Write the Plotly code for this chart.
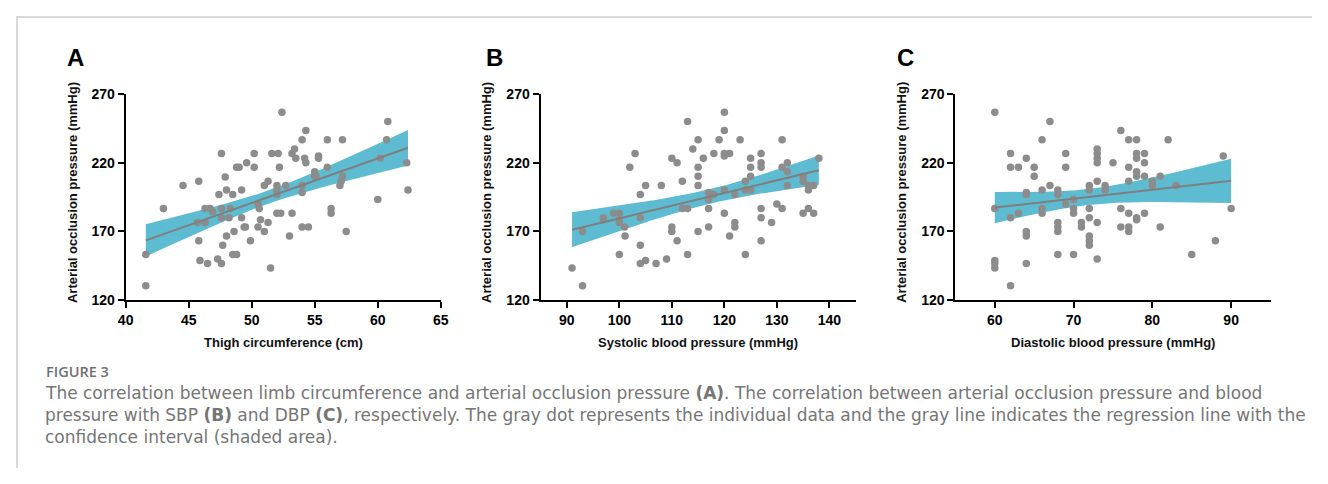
import numpy as np
import plotly.graph_objects as go

# ---------------- data ----------------
thigh_cm = [41.6, 41.6, 43.0, 44.55, 45.8, 45.7, 45.8, 45.9, 46.3, 46.3, 46.5, 46.7, 46.9, 47.3,
            47.4, 47.6, 47.6, 47.6, 47.6, 47.7, 47.9, 48.0, 48.0, 48.2, 48.3, 48.5, 48.5, 48.6,
            48.8, 48.8, 49.0, 49.2, 49.2, 49.4, 49.5, 49.6, 49.9, 50.2, 50.2, 50.5, 50.5, 50.6,
            50.7, 51.0, 51.0, 51.3, 51.3, 51.5, 51.6, 52.0, 52.0, 52.0, 52.0, 52.1, 52.2, 52.3,
            52.4, 52.7, 53.0, 53.2, 53.2, 53.4, 53.5, 54.0, 54.0, 54.0, 54.0, 54.2, 54.3, 54.3,
            54.5, 55.0, 55.0, 55.1, 55.3, 55.3, 56.0, 56.0, 56.3, 56.3, 57.0, 57.1, 57.2, 57.2,
            57.5, 60.0, 60.2, 60.7, 60.8, 62.3, 62.4]
thigh_aop = [130.4, 153.2, 186.6, 203.4, 206.6, 176.5, 163.1, 148.7, 176.5, 186.6, 146.6, 186.6, 184.3, 149.9,
             196.8, 186.6, 180.0, 146.6, 226.7, 159.8, 209.7, 200.1, 166.6, 180.0, 186.6, 196.8, 153.2, 169.9,
             153.2, 216.8, 216.8, 200.1, 180.0, 173.2, 173.2, 220.0, 163.1, 216.8, 226.7, 173.2, 189.9, 186.6,
             178.4, 169.9, 203.4, 206.6, 176.5, 143.3, 226.7, 203.4, 200.1, 196.8, 183.3, 226.7, 216.8, 183.3,
             256.8, 203.4, 166.6, 183.3, 226.7, 230.0, 223.4, 236.8, 203.4, 198.4, 173.2, 223.4, 243.6, 220.0,
             173.2, 213.5, 210.2, 210.2, 225.0, 223.4, 216.8, 236.8, 186.6, 183.3, 203.4, 206.6, 210.2, 236.8,
             169.9, 193.2, 223.4, 236.8, 250.2, 220.0, 200.1]

sbp_mmhg = [91, 93, 93, 97, 97, 98.9, 100, 100, 100, 101, 101.1, 100, 102, 103, 104, 104, 104, 104,
            105, 105, 107, 108, 109, 110, 110, 110, 111, 111, 112, 112, 113, 113, 113, 114, 115, 115,
            115, 115, 115, 116, 117, 117, 117, 117, 118, 118, 119, 120, 120, 120, 120, 120, 120, 121,
            121, 122, 122, 122, 123, 124, 124, 124, 125, 125, 125, 125, 127, 127, 127, 127, 127, 127,
            129, 130, 131, 131, 131, 132, 132, 132, 135, 135, 135, 136, 136, 136, 137, 137, 138]
sbp_aop = [143.3, 130.4, 169.9, 180.0, 178.4, 183.3, 183.3, 176.5, 178.4, 173.2, 166.6, 153.2, 216.8, 226.7,
           196.8, 180.0, 159.8, 146.6, 148.7, 203.4, 146.6, 203.4, 149.9, 223.4, 173.2, 169.9, 220.0, 163.1,
           206.6, 186.6, 250.2, 186.6, 153.2, 230.0, 236.8, 216.8, 210.2, 203.4, 169.9, 223.4, 198.4, 193.2,
           186.6, 173.2, 226.7, 196.8, 236.8, 256.8, 243.6, 226.7, 225.0, 200.1, 183.3, 226.7, 166.6, 196.8,
           176.5, 173.2, 236.8, 206.6, 200.1, 153.2, 223.4, 216.8, 210.2, 200.1, 226.7, 220.0, 216.8, 186.6,
           180.0, 163.1, 176.5, 189.9, 236.8, 216.8, 186.6, 220.0, 213.5, 203.4, 210.2, 206.6, 183.3, 203.4,
           200.1, 186.6, 203.4, 183.3, 223.4]

dbp_mmhg = [60, 60, 60, 60, 60, 62, 62, 62, 62, 63, 63, 64, 64, 64, 64, 64, 64, 65, 65, 66, 66, 66, 66,
            67, 67, 68, 68, 68, 68, 68, 68, 69, 69, 69, 70, 70, 70, 70, 71, 71, 72, 72, 72, 72, 72, 72, 72,
            73, 73, 73, 73, 73, 73, 73, 74, 74, 75, 76, 76, 76, 77, 77, 77, 77, 77, 77, 78, 78, 78, 78, 78,
            78, 78, 79, 79, 79, 79, 80, 80, 81, 81, 82, 83, 85, 88, 89, 90]
dbp_aop = [256.8, 186.6, 148.7, 146.6, 143.3, 226.7, 216.8, 180.0, 130.4, 216.8, 183.3, 223.4, 198.4, 196.8,
           169.9, 166.6, 146.6, 216.8, 210.2, 236.8, 200.1, 186.6, 183.3, 250.2, 203.4, 200.1, 196.8, 176.5,
           173.2, 169.9, 153.2, 226.7, 216.8, 189.9, 193.2, 186.6, 183.3, 153.2, 176.5, 173.2, 203.4, 200.1,
           186.6, 180.0, 166.6, 163.1, 159.8, 230.0, 226.7, 223.4, 220.0, 206.6, 176.5, 149.9, 203.4, 200.1,
           220.0, 243.6, 186.6, 173.2, 236.8, 216.8, 206.6, 183.3, 173.2, 169.9, 236.8, 226.7, 223.4, 213.5,
           210.2, 180.0, 178.4, 226.7, 220.0, 210.2, 183.3, 206.6, 203.4, 210.2, 173.2, 236.8, 203.4, 153.2,
           163.1, 225.0, 186.6]

panel_letters = ["A", "B", "C"]
x_titles = ["Thigh circumference (cm)", "Systolic blood pressure (mmHg)", "Diastolic blood pressure (mmHg)"]
y_title = "Arterial occlusion pressure (mmHg)"
x_ranges = [[40, 65], [85, 145], [55, 95]]
x_ticks = [[40, 45, 50, 55, 60, 65], [90, 100, 110, 120, 130, 140], [60, 70, 80, 90]]
y_ticks = [120, 170, 220, 270]

caption_head = "FIGURE 3"
caption_lines = [
    "The correlation between limb circumference and arterial occlusion pressure <b>(A)</b>. The correlation between arterial occlusion pressure and blood",
    "pressure with SBP <b>(B)</b> and DBP <b>(C)</b>, respectively. The gray dot represents the individual data and the gray line indicates the regression line with the",
    "confidence interval (shaded area).",
]

# ---------------- styling / layout ----------------
# The page body keeps its default 8px margin, so the figure is 16px smaller than the window.
PAGE_W, PAGE_H, M = 1328, 484, 8
W, H = PAGE_W - 2 * M, PAGE_H - 2 * M

def px_x(p):   # window pixel -> paper fraction
    return (p - M) / W

def px_y(p):
    return 1 - (p - M) / H

DOT = "#8c8c8c"
LINE = "#7f7f7f"
BAND = "#5dbcd1"
x_px = [(119, 438), (539, 858), (959, 1278)]
y_px = (89, 302)
letter_px = [68, 492, 908]
ytitle_px = [65, 485, 905]
T_CRIT = 1.987

def regression(x, y):
    x = np.asarray(x, float); y = np.asarray(y, float)
    n = len(x)
    b, a = np.polyfit(x, y, 1)
    resid = y - (a + b * x)
    s = np.sqrt(np.sum(resid ** 2) / (n - 2))
    xm = x.mean(); sxx = np.sum((x - xm) ** 2)
    xs = np.linspace(x.min(), x.max(), 100)
    fit = a + b * xs
    se = s * np.sqrt(1.0 / n + (xs - xm) ** 2 / sxx)
    return xs, fit, fit - T_CRIT * se, fit + T_CRIT * se

fig = go.Figure()
datasets = [(thigh_cm, thigh_aop), (sbp_mmhg, sbp_aop), (dbp_mmhg, dbp_aop)]
annotations = []
tickfont = dict(family="Liberation Sans, Arial, sans-serif", size=14, color="black", weight="bold")
title_font = dict(family="Liberation Sans, Arial", size=13, color="#111", weight="bold")

for i, (xv, yv) in enumerate(datasets):
    xa = "x" if i == 0 else f"x{i+1}"
    ya = "y" if i == 0 else f"y{i+1}"
    xs, fit, lo, hi = regression(xv, yv)
    fig.add_trace(go.Scatter(x=np.concatenate([xs, xs[::-1]]), y=np.concatenate([hi, lo[::-1]]),
                             fill="toself", fillcolor=BAND, line=dict(width=0), mode="lines",
                             hoverinfo="skip", showlegend=False, xaxis=xa, yaxis=ya))
    fig.add_trace(go.Scatter(x=xv, y=yv, mode="markers",
                             marker=dict(color=DOT, size=7.5, line=dict(width=0)),
                             showlegend=False, xaxis=xa, yaxis=ya))
    fig.add_trace(go.Scatter(x=xs, y=fit, mode="lines", line=dict(color=LINE, width=2),
                             showlegend=False, xaxis=xa, yaxis=ya))

    axis_common = dict(showgrid=False, zeroline=False, showline=True, linecolor="black", linewidth=2,
                       ticks="outside", ticklen=6, tickwidth=2, tickcolor="black", tickfont=tickfont)
    fig.update_layout(**{
        ("xaxis" if i == 0 else f"xaxis{i+1}"): dict(
            domain=[px_x(x_px[i][0]), px_x(x_px[i][1])], range=x_ranges[i], tickvals=x_ticks[i],
            anchor=ya, **axis_common),
        ("yaxis" if i == 0 else f"yaxis{i+1}"): dict(
            domain=[px_y(y_px[1]), px_y(y_px[0])], range=[120, 270], tickvals=y_ticks,
            anchor=xa, **axis_common),
    })
    annotations.append(dict(text=panel_letters[i], x=px_x(letter_px[i]), y=px_y(51), xref="paper", yref="paper",
                            showarrow=False, xanchor="center", yanchor="middle",
                            font=dict(family="Liberation Sans, Arial", size=24, color="black", weight="bold")))
    annotations.append(dict(text=x_titles[i], x=px_x((x_px[i][0] + x_px[i][1]) / 2), y=px_y(346),
                            xref="paper", yref="paper", showarrow=False, xanchor="center", yanchor="middle",
                            font=title_font))
    annotations.append(dict(text=y_title, x=px_x(ytitle_px[i]), y=px_y(191), xref="paper", yref="paper",
                            showarrow=False, textangle=-90, xanchor="center", yanchor="middle",
                            font=title_font))

annotations.append(dict(text=caption_head, x=px_x(36), y=px_y(376), xref="paper", yref="paper", showarrow=False,
                        xanchor="left", yanchor="middle",
                        font=dict(family="Open Sans, sans-serif", size=14.5, color="#707070", weight=600)))
for k, line in enumerate(caption_lines):
    annotations.append(dict(text=line, x=px_x(35), y=px_y(398 + 23 * k), xref="paper", yref="paper",
                            showarrow=False, xanchor="left", yanchor="middle",
                            font=dict(family="DejaVu Sans, sans-serif", size=17, color="#757575")))

shapes = [
    dict(type="line", xref="paper", yref="paper", x0=0, x1=1, y0=1 - 1 / H, y1=1 - 1 / H,
         line=dict(color="#d9d9d9", width=2)),
    dict(type="line", xref="paper", yref="paper", x0=1 / W, x1=1 / W, y0=0, y1=1,
         line=dict(color="#d9d9d9", width=2)),
]

fig.update_layout(width=W, height=H, margin=dict(l=0, r=0, t=0, b=0), paper_bgcolor="white",
                  plot_bgcolor="white", annotations=annotations, shapes=shapes, showlegend=False)
fig.write_html("out.html", config={"displayModeBar": False})
